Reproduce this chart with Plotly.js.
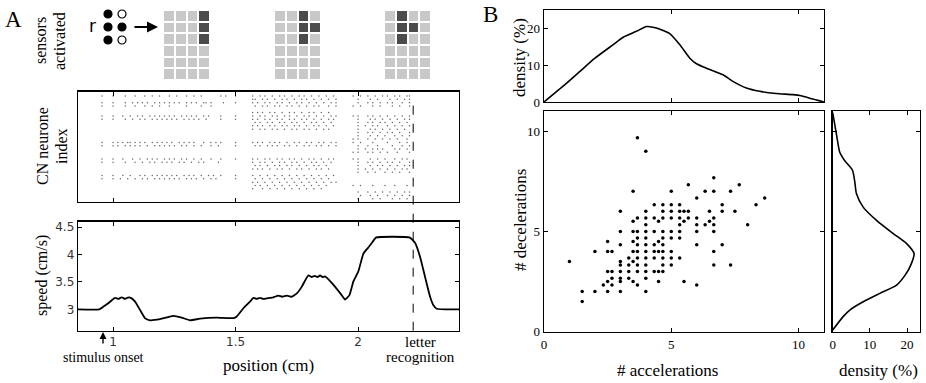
<!DOCTYPE html>
<html><head><meta charset="utf-8">
<script src="https://cdn.plot.ly/plotly-3.0.1.min.js"></script>
<style>html,body{margin:0;padding:0;background:#fff}#chart{width:926px;height:383px}</style>
</head><body><div id="chart"></div>
<script>
// ---------- Panel A data ----------
const speedPos = [0.856,0.944,0.961,0.988,1.008,1.022,1.035,1.049,1.063,1.076,1.090,1.110,1.131,1.151,1.192,1.246,1.280,1.314,1.355,1.423,1.491,1.505,1.532,1.559,1.573,1.586,1.600,1.613,1.627,1.641,1.654,1.675,1.690,1.709,1.729,1.750,1.770,1.797,1.810,1.824,1.835,1.845,1.855,1.865,1.899,1.933,1.947,1.965,1.981,2.001,2.022,2.042,2.056,2.073,2.212,2.233,2.253,2.273,2.294,2.307,2.321,2.414];
const speedVal = [3.00,3.00,3.05,3.14,3.21,3.19,3.22,3.19,3.22,3.20,3.14,2.99,2.835,2.80,2.82,2.88,2.85,2.80,2.83,2.85,2.84,2.87,3.02,3.14,3.21,3.19,3.21,3.19,3.20,3.21,3.22,3.25,3.23,3.25,3.23,3.29,3.41,3.62,3.59,3.61,3.59,3.62,3.59,3.60,3.45,3.26,3.18,3.26,3.51,3.69,4.02,4.13,4.21,4.31,4.31,4.21,3.96,3.60,3.23,3.08,3.01,3.00];
const speedTicks = [3,3.5,4,4.5];
const speedTickText = ['3','3.5','4','4.5'];
const posTicks = [1,1.5,2];
const posTickText = ['1','1.5','2'];
const stimulusOnset = 0.959;
const letterRecognition = 2.225;

const rasterRows = [32,31,30,29,27,26,25,24,23,22,21,20,19,18,17,16,15,13,12,11,10,9,8,7,6,5,4,3,2,1];
const rasterSpikes = [
 [0.955,1.00,1.05,1.09,1.13,1.16,1.19,1.23,1.26,1.30,1.33,1.36,1.44,1.46,1.50,1.57,1.60,1.62,1.65,1.68,1.70,1.73,1.76,1.78,1.81,1.84,1.87,1.90,1.98,2.01,2.04,2.07,2.10,2.12,2.15,2.17,2.20,2.21],
 [1.57,1.58,1.61,1.63,1.66,1.69,1.71,1.74,1.77,1.79,1.82,1.85,1.88,1.91,2.00,2.05,2.08,2.13,2.16,2.19,2.21],
 [0.955,1.00,1.05,1.08,1.10,1.12,1.14,1.17,1.19,1.21,1.23,1.25,1.27,1.30,1.32,1.34,1.37,1.38,1.40,1.45,1.50,1.57,1.59,1.62,1.64,1.67,1.69,1.72,1.75,1.77,1.80,1.83,1.86,1.89,1.91,2.00,2.04,2.06,2.09,2.12,2.14,2.18,2.21],
 [0.955,1.00,1.05,1.09,1.13,1.16,1.19,1.23,1.30,1.36,1.40,1.58,1.61,1.63,1.66,1.68,1.71,1.73,1.76,1.79,1.82,1.84,1.88,1.91,1.98,2.01,2.06,2.09,2.14,2.17,2.21],
 [1.57,1.59,1.61,1.64,1.66,1.69,1.72,1.74,1.77,1.80,1.82,1.85,1.88],
 [0.955,1.00,1.04,1.07,1.10,1.12,1.15,1.17,1.19,1.21,1.23,1.25,1.28,1.30,1.32,1.34,1.37,1.39,1.44,1.50,1.57,1.60,1.62,1.65,1.67,1.70,1.72,1.75,1.78,1.80,1.83,1.86,1.89,1.91,1.98,2.00,2.04,2.06,2.09,2.12,2.15,2.18,2.21],
 [0.955,1.00,1.05,1.08,1.11,1.13,1.16,1.18,1.20,1.22,1.24,1.26,1.29,1.31,1.33,1.35,1.38,1.44,1.50,1.57,1.59,1.62,1.64,1.67,1.69,1.72,1.74,1.77,1.79,1.82,1.85,1.88,1.90,2.00,2.05,2.07,2.10,2.13,2.16,2.19,2.21],
 [1.58,1.60,1.63,1.65,1.68,1.70,1.73,1.75,1.78,1.81,1.83,1.86,1.89,2.00,2.04,2.06,2.09,2.11,2.14,2.17,2.20],
 [1.57,1.59,1.61,1.64,1.66,1.69,1.71,1.74,1.76,1.79,1.82,1.84,1.87,1.90,2.00,2.03,2.06,2.08,2.12,2.15,2.18,2.21],
 [1.57,1.60,1.62,1.65,1.67,1.70,1.73,1.75,1.78,1.80,1.83,1.86,1.88,2.00,2.05,2.07,2.10,2.13,2.16,2.19],
 [2.00,2.04,2.06,2.09,2.12,2.14,2.17,2.21],
 [2.00,2.05,2.08,2.11,2.15,2.18,2.21],
 [1.98,2.00,2.04,2.07,2.10,2.13,2.16,2.20],
 [0.955,1.00,1.02,1.04,1.06,1.07,1.09,1.11,1.13,1.16,1.18,1.20,1.22,1.24,1.27,1.29,1.31,1.33,1.37,1.40,1.42,1.44,1.50,1.57,1.59,1.61,1.64,1.66,1.68,1.71,1.74,1.76,1.79,1.81,1.84,1.86,1.89,1.91,1.98,2.01,2.06,2.12,2.17,2.20],
 [0.955,1.00,1.02,1.05,1.07,1.09,1.11,1.14,1.17,1.19,1.21,1.23,1.25,1.28,1.30,1.33,1.36,1.40,1.43,1.50,1.58,1.60,1.63,1.65,1.67,1.70,1.72,1.75,1.78,1.80,1.83,1.85,1.88,1.91,2.00,2.04,2.08,2.14,2.18,2.21],
 [2.00,2.03,2.06,2.08,2.10,2.15,2.17,2.20],
 [1.98,2.00,2.04,2.06,2.09,2.12,2.16,2.21],
 [0.955,1.00,1.04,1.08,1.11,1.14,1.16,1.18,1.21,1.23,1.25,1.28,1.30,1.33,1.36,1.40,1.44,1.50,1.57,1.59,1.62,1.64,1.67,1.69,1.72,1.74,1.77,1.80,1.82,1.85,1.88,1.90,1.98,2.00,2.05,2.08,2.11,2.15,2.18,2.20],
 [0.955,1.00,1.05,1.09,1.12,1.15,1.17,1.20,1.22,1.24,1.27,1.29,1.32,1.35,1.37,1.43,1.57,1.60,1.62,1.65,1.68,1.70,1.73,1.75,1.78,1.81,1.83,1.86,1.89,2.00,2.04,2.06,2.09,2.12,2.14,2.17,2.21],
 [1.58,1.60,1.63,1.66,1.68,1.71,1.73,1.76,1.79,1.82,1.84,1.87,2.00,2.05,2.08,2.10,2.13,2.16,2.19,2.21],
 [1.57,1.59,1.61,1.64,1.67,1.69,1.72,1.75,1.77,1.80,1.83,1.85,1.88,2.00,2.03,2.06,2.09,2.12,2.15,2.18,2.20],
 [2.00,2.04,2.07,2.11,2.14,2.17,2.21],
 [0.955,1.00,1.04,1.07,1.11,1.13,1.16,1.18,1.20,1.22,1.24,1.26,1.29,1.31,1.33,1.36,1.39,1.41,1.44,1.50,1.57,1.60,1.63,1.66,1.69,1.72,1.75,1.78,1.81,1.84,1.87,1.90],
 [0.955,1.00,1.03,1.06,1.09,1.12,1.14,1.17,1.19,1.21,1.23,1.25,1.27,1.30,1.32,1.34,1.37,1.40,1.42,1.50,1.58,1.61,1.64,1.67,1.70,1.73,1.76,1.79,1.82,1.85,1.88],
 [1.57,1.59,1.62,1.65,1.68,1.71,1.74,1.77,1.80,1.83,1.86,1.89,1.91],
 [1.58,1.60,1.63,1.66,1.69,1.72,1.75,1.78,1.81,1.84,1.87,1.98,2.01,2.06,2.11,2.15,2.20],
 [1.57,1.61,1.64,1.67,1.70,1.73,1.76,1.79,1.82,1.85],
 [2.00,2.04,2.07,2.10,2.13,2.16,2.19,2.21],
 [2.01,2.05,2.08,2.12,2.15,2.18,2.21],
 [2.00,2.06,2.09,2.14,2.17,2.20]
];

// sensor grids (rows top->bottom, 4 columns), 1 = activated
const sensorGrid1 = [[0,0,0,1],[0,0,0,1],[0,0,0,1],[0,0,0,0],[0,0,0,0],[0,0,0,0]];
const sensorGrid2 = [[0,0,1,0],[0,0,1,1],[0,0,1,0],[0,0,0,0],[0,0,0,0],[0,0,0,0]];
const sensorGrid3 = [[0,1,0,0],[0,1,1,0],[0,1,0,0],[0,0,0,0],[0,0,0,0],[0,0,0,0]];
// braille letter "r"
const brailleCol = [1,1,1,2,2,2];
const brailleRow = [1,2,3,1,2,3];
const brailleOn  = [1,1,1,0,1,0];

// ---------- Panel B data ----------
const accel = [3.67,4.0,3.5,5.0,5.67,6.33,6.67,6.67,7.33,7.67,6.0,8.67,8.33,
 4.33,4.67,5.0,5.33,7.0,
 3.0,4.0,4.67,5.0,5.33,5.5,5.67,6.5,7.0,7.5,
 3.67,4.0,4.33,4.67,5.0,5.33,5.67,6.0,6.67,
 3.5,4.5,5.5,6.5,
 4.0,5.33,6.0,6.33,6.67,8.0,
 3.0,3.5,3.67,4.0,4.33,4.67,5.0,5.33,6.0,6.67,
 3.67,4.0,4.67,5.0,5.33,
 2.5,3.5,4.5,
 3.0,3.67,4.0,4.33,4.67,6.0,7.0,
 2.0,2.5,2.67,3.5,3.67,4.0,4.33,4.5,4.67,5.0,6.67,
 3.33,3.67,4.0,4.33,4.67,5.0,5.33,
 1.0,3.0,3.5,
 3.0,3.33,3.67,4.0,4.67,5.0,6.67,7.33,
 2.5,2.67,3.0,3.33,3.67,4.0,4.33,4.5,4.67,
 2.67,3.0,3.33,4.0,
 2.5,3.0,3.5,4.5,5.5,
 2.33,2.67,3.67,6.0,
 1.5,2.0,2.5,3.0,4.0,
 1.5];
const decel = [9.67,9.0,7.0,7.0,7.33,7.0,7.67,7.0,7.0,7.33,6.67,6.67,6.33,
 6.33,6.33,6.33,6.33,6.33,
 6.0,6.0,6.0,6.0,6.0,6.0,6.0,6.0,6.0,6.0,
 5.67,5.67,5.67,5.67,5.67,5.67,5.67,5.67,5.67,
 5.5,5.5,5.5,5.5,
 5.33,5.33,5.33,5.33,5.33,5.33,
 5.0,5.0,5.0,5.0,5.0,5.0,5.0,5.0,5.0,5.0,
 4.67,4.67,4.67,4.67,4.67,
 4.5,4.5,4.5,
 4.33,4.33,4.33,4.33,4.33,4.33,4.33,
 4.0,4.0,4.0,4.0,4.0,4.0,4.0,4.0,4.0,4.0,4.0,
 3.67,3.67,3.67,3.67,3.67,3.67,3.67,
 3.5,3.5,3.5,
 3.33,3.33,3.33,3.33,3.33,3.33,3.33,3.33,
 3.0,3.0,3.0,3.0,3.0,3.0,3.0,3.0,3.0,
 2.67,2.67,2.67,2.67,
 2.5,2.5,2.5,2.5,2.5,
 2.33,2.33,2.33,2.33,
 2.0,2.0,2.0,2.0,2.0,
 1.5];
const accDensX = [0,0.82,1.41,2.0,2.72,3.11,3.63,4.03,4.42,4.94,5.33,5.73,5.99,6.38,7.03,7.42,7.95,8.47,9.12,9.78,10.1,10.56,11.0];
const accDensY = [0,4.7,8.3,11.9,15.6,17.6,19.2,20.5,20.1,18.6,15.6,11.9,10.4,9.2,7.4,5.6,3.8,2.9,2.3,2.0,1.7,0.8,0];
const decDensY = [10.92,9.85,8.94,8.53,8.06,7.53,6.87,6.21,5.55,4.89,4.39,3.89,3.23,2.82,2.32,1.91,1.49,1.08,0.75,0.08];
const decDensX = [0,1.0,1.9,3.2,5.3,5.9,6.4,8.2,11.8,16.3,19.9,21.9,20.8,19.5,17.2,12.7,8.2,4.6,2.8,0];

// ---------- build ----------
const rx = [], ry = [];
rasterRows.forEach((r, i) => rasterSpikes[i].forEach(t => { rx.push(t); ry.push(r); }));

const serif = 'Liberation Serif';
const sans = 'DejaVu Sans';
const gridScale = [[0,'#c8c8c8'],[1,'#4b4b4b']];

const traces = [
  {type:'scatter', mode:'lines', x:speedPos, y:speedVal, xaxis:'x', yaxis:'y', line:{color:'#000', width:1.8, shape:'spline', smoothing:0.4}, hoverinfo:'skip'},
  {type:'scatter', mode:'markers', x:rx, y:ry, xaxis:'x2', yaxis:'y2', marker:{size:1.5, color:'#666'}, hoverinfo:'skip'},
  {type:'heatmap', z:sensorGrid1, xaxis:'x3', yaxis:'y3', colorscale:gridScale, zmin:0, zmax:1, showscale:false, xgap:2, ygap:2},
  {type:'heatmap', z:sensorGrid2, xaxis:'x4', yaxis:'y4', colorscale:gridScale, zmin:0, zmax:1, showscale:false, xgap:2, ygap:2},
  {type:'heatmap', z:sensorGrid3, xaxis:'x5', yaxis:'y5', colorscale:gridScale, zmin:0, zmax:1, showscale:false, xgap:2, ygap:2},
  {type:'scatter', mode:'markers', x:brailleCol, y:brailleRow, xaxis:'x6', yaxis:'y6',
   marker:{size:8, color:brailleOn.map(v => v ? '#000' : '#fff'), line:{color:'#000', width:1.2}}, hoverinfo:'skip'},
  {type:'scatter', mode:'lines', x:accDensX, y:accDensY, xaxis:'x7', yaxis:'y7', line:{color:'#000', width:1.6, shape:'spline', smoothing:0.6}, hoverinfo:'skip'},
  {type:'scatter', mode:'markers', x:accel, y:decel, xaxis:'x8', yaxis:'y8', marker:{size:3.5, color:'#000'}, hoverinfo:'skip'},
  {type:'scatter', mode:'lines', x:decDensX, y:decDensY, xaxis:'x9', yaxis:'y9', line:{color:'#000', width:1.6, shape:'spline', smoothing:0.6}, hoverinfo:'skip'}
];

const P = (px) => px / 926;
const Q = (py) => 1 - py / 383;
const box = {showline:true, mirror:'ticks', linecolor:'#000', linewidth:1.3, ticks:'inside', ticklen:4, tickcolor:'#000', showgrid:false, zeroline:false};
const hidden = {visible:false, showgrid:false, zeroline:false, fixedrange:true};
const lbl = (text, x, y, size, family, angle) => ({text:text, xref:'paper', yref:'paper', x:P(x), y:Q(y), xanchor:'center', yanchor:'middle', textangle:angle || 0, showarrow:false, font:{family:family, size:size, color:'#000'}});
const tfA = {family:sans, size:12, color:'#333'};
const tfB = {family:serif, size:13, color:'#000'};

const layout = {
  width:926, height:383, margin:{l:0, r:0, t:0, b:0}, paper_bgcolor:'#fff', plot_bgcolor:'rgba(0,0,0,0)', showlegend:false,
  font:{family:serif, color:'#000'},
  xaxis: Object.assign({}, box, {domain:[P(78), P(459)], range:[0.857, 2.412], anchor:'y', tickvals:posTicks, ticktext:posTickText, tickfont:tfA}),
  yaxis: Object.assign({}, box, {domain:[Q(330.7), Q(221.7)], range:[2.61, 4.60], anchor:'x', tickvals:speedTicks, ticktext:speedTickText, tickfont:tfA}),
  xaxis2: Object.assign({}, box, {domain:[P(78), P(459)], range:[0.857, 2.412], anchor:'y2', tickvals:posTicks, showticklabels:false}),
  yaxis2: Object.assign({}, box, {domain:[Q(202), Q(91.7)], range:[0, 33.3], anchor:'x2', ticks:'', showticklabels:false}),
  xaxis3: Object.assign({}, hidden, {domain:[P(163), P(210)], anchor:'y3'}),
  yaxis3: Object.assign({}, hidden, {domain:[Q(80), Q(10)], anchor:'x3', autorange:'reversed'}),
  xaxis4: Object.assign({}, hidden, {domain:[P(274), P(321)], anchor:'y4'}),
  yaxis4: Object.assign({}, hidden, {domain:[Q(80), Q(10)], anchor:'x4', autorange:'reversed'}),
  xaxis5: Object.assign({}, hidden, {domain:[P(384), P(431)], anchor:'y5'}),
  yaxis5: Object.assign({}, hidden, {domain:[Q(80), Q(10)], anchor:'x5', autorange:'reversed'}),
  xaxis6: Object.assign({}, hidden, {domain:[P(101), P(129)], range:[0.5, 2.5], anchor:'y6'}),
  yaxis6: Object.assign({}, hidden, {domain:[Q(46.5), Q(7.5)], range:[3.5, 0.5], anchor:'x6'}),
  xaxis7: Object.assign({}, box, {domain:[P(544), P(824)], range:[0, 11], anchor:'y7', tickvals:[5,10], showticklabels:false}),
  yaxis7: Object.assign({}, box, {domain:[Q(102), Q(10)], range:[0, 25], anchor:'x7', tickvals:[0,10,20], tickfont:tfB}),
  xaxis8: Object.assign({}, box, {domain:[P(544), P(824)], range:[0, 11], anchor:'y8', tickvals:[0,5,10], tickfont:tfB}),
  yaxis8: Object.assign({}, box, {domain:[Q(331.7), Q(111)], range:[0, 11], anchor:'x8', tickvals:[0,5,10], tickfont:tfB}),
  xaxis9: Object.assign({}, box, {domain:[P(832.7), P(920)], range:[0, 23.5], anchor:'y9', tickvals:[0,10,20], tickfont:tfB}),
  yaxis9: Object.assign({}, box, {domain:[Q(331.7), Q(111)], range:[0, 11], anchor:'x9', tickvals:[5,10], showticklabels:false}),
  shapes: [
    {type:'line', xref:'x', yref:'paper', x0:letterRecognition, x1:letterRecognition, y0:Q(330.7), y1:Q(97), line:{color:'#000', width:1, dash:'dash'}}
  ],
  annotations: [
    lbl('A', 13, 19, 23, serif),
    lbl('B', 490, 15, 23, serif),
    lbl('sensors', 41, 41, 16, serif, -90),
    lbl('activated', 60, 41, 16, serif, -90),
    lbl('r', 92, 26, 17, sans),
    {text:'', xref:'paper', yref:'paper', x:P(158), y:Q(27), ax:-25, ay:0, showarrow:true, arrowhead:2, arrowsize:1, arrowwidth:2.2, arrowcolor:'#000'},
    lbl('CN neurone', 42, 146, 16, serif, -90),
    lbl('index', 61, 146, 16, serif, -90),
    lbl('speed (cm/s)', 42, 276, 16, serif, -90),
    lbl('position (cm)', 268, 365, 17, serif),
    {text:'', xref:'x', yref:'paper', x:stimulusOnset, y:Q(332), ax:0, ay:13, showarrow:true, arrowhead:2, arrowsize:1, arrowwidth:1.4, arrowcolor:'#000'},
    lbl('stimulus onset', 103, 357, 14, serif),
    lbl('letter', 420, 342, 15, serif),
    lbl('recognition', 420, 357, 15, serif),
    lbl('density (%)', 520, 58, 17, serif, -90),
    lbl('# decelerations', 520, 220, 17, serif, -90),
    lbl('# accelerations', 667, 370, 17, serif),
    lbl('density (%)', 878, 370, 17, serif)
  ]
};

Plotly.newPlot('chart', traces, layout, {displayModeBar:false, staticPlot:true});
</script></body></html>
